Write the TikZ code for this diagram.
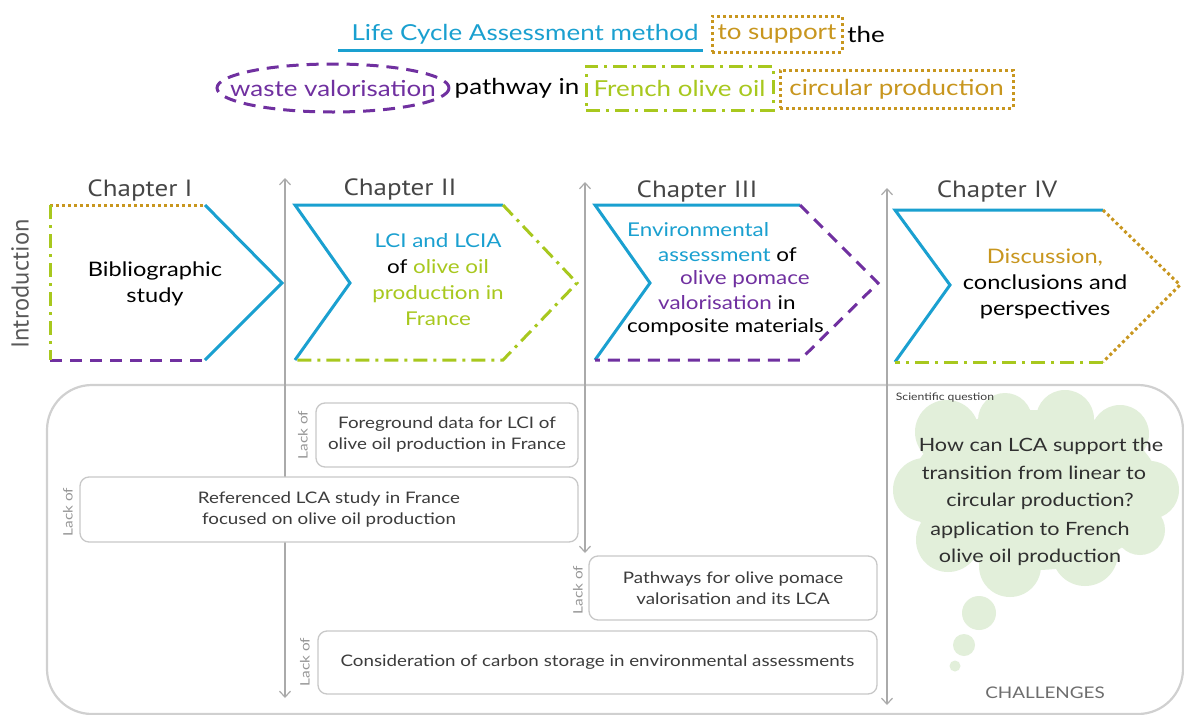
\documentclass[tikz,border=0pt]{standalone}
\usepackage{fontspec}
\setmainfont{Lato}[FakeStretch=1.18]
\newfontfamily\chapfont{PT Sans}[FakeStretch=1.15]
\newfontfamily\introfont{PT Sans}
\usetikzlibrary{arrows.meta,shapes.geometric}
\definecolor{cblue}{RGB}{26,160,208}
\definecolor{cgold}{RGB}{200,150,30}
\definecolor{cpurple}{RGB}{112,48,160}
\definecolor{cgreen}{RGB}{168,200,30}
\definecolor{cgray}{RGB}{200,200,200}
\definecolor{carrow}{RGB}{170,170,170}
\definecolor{ctext}{RGB}{60,60,60}
\definecolor{clack}{RGB}{150,150,150}
\definecolor{ccloud}{RGB}{226,239,218}
\begin{document}
\begin{tikzpicture}[x=1pt,y=-1pt,
  sblue/.style={draw=cblue,line width=3pt,line join=miter},
  sgold/.style={draw=cgold,line width=3pt,dash pattern=on 3pt off 3pt},
  spurple/.style={draw=cpurple,line width=3pt,dash pattern=on 12pt off 8pt},
  sgreen/.style={draw=cgreen,line width=3pt,dash pattern=on 14pt off 6pt on 3pt off 6pt},
  title/.style={font=\fontsize{22}{26}\selectfont,inner sep=0pt,anchor=center},
  chap/.style={font=\chapfont\fontsize{23.5}{26}\selectfont,text=ctext!95,inner sep=0pt},
  body/.style={font=\fontsize{20}{26}\selectfont,inner sep=0pt,align=center},
  bline/.style={font=\fontsize{19}{24}\selectfont,inner sep=0pt,anchor=west},
  gbox/.style={draw=cgray,line width=1.3pt,rounded corners=9pt,fill=white,text=ctext,
    font=\fontsize{15.9}{21}\selectfont,align=center,inner sep=0pt},
  lack/.style={rotate=90,text=clack,font=\fontsize{13}{14}\selectfont,inner sep=0pt},
  garrow/.style={draw=carrow,line width=1.2pt,{Straight Barb[length=6pt,width=11pt]}-{Straight Barb[length=6pt,width=11pt]}},
  qline/.style={font=\fontsize{18.3}{24}\selectfont,text=ctext!80!black,inner sep=0pt}
]
\useasboundingbox (0,0) rectangle (1184,715);
\fill[white] (0,0) rectangle (1184,715);

% ---------- title ----------
\node[title,text=cblue] (lca) at (525,34) {Life Cycle Assessment method};
\draw[cblue,line width=3pt] (338,50) -- (703,50);
\node[title,text=cgold,sgold,minimum width=130pt,minimum height=36pt] (sup) at (777,34) {to support};
\node[title] (the) at (866,34) {the};
\node[title,text=cpurple] (waste) at (333,88) {waste valorisation};
\draw[spurple] (waste.center) ellipse (116 and 24);
\node[title] (path) at (517,88) {pathway in};
\node[title,text=cgreen,sgreen,minimum width=187pt,minimum height=44pt] (french) at (679.5,88) {French olive oil};
\node[title,text=cgold,sgold,minimum width=233pt,minimum height=38pt] (circ) at (896.5,89) {circular production};

% ---------- introduction ----------
\node[rotate=90,font=\introfont\fontsize{24.5}{26}\selectfont,text=ctext!85,inner sep=0pt] (intro) at (20,284) {Introduction};

% ---------- chapter labels ----------
\node[chap] (c1) at (140,190) {Chapter I};
\node[chap] (c2) at (400,189) {Chapter II};
\node[chap] (c3) at (697,191) {Chapter III};
\node[chap] (c4) at (997,191) {Chapter IV};

% ---------- chevron I ----------
\draw[sgold] (50,205) -- (205,205);
\draw[sblue] (205,205) -- (282,283) -- (205,360);
\draw[spurple] (50,360) -- (205,360);
\draw[sgreen] (50,205) -- (50,360);
\node[body] (t1) at (155,284) {Bibliographic\\study};

% ---------- chevron II ----------
\draw[sblue] (295,360) -- (350,283) -- (295,205) -- (503,205);
\draw[sgreen] (503,205) -- (577,283) -- (503,360) -- (295,360);
\node[body,font=\fontsize{19}{26}\selectfont] (t2) at (438,280) {\textcolor{cblue}{LCI and LCIA}\\of \textcolor{cgreen}{olive oil}\\\textcolor{cgreen}{production in}\\\textcolor{cgreen}{France}};

% ---------- chevron III ----------
\draw[sblue] (595,360) -- (650,283) -- (595,205) -- (800,205);
\draw[spurple] (800,205) -- (878,283) -- (800,360) -- (595,360);
\node[bline,text=cblue] (t3a) at (627,230) {Environmental};
\node[bline] (t3b) at (658,255) {\textcolor{cblue}{assessment} of};
\node[bline,text=cpurple] (t3c) at (680,279) {olive pomace};
\node[bline] (t3d) at (658,303) {\textcolor{cpurple}{valorisation} in};
\node[bline] (t3e) at (627,327) {composite materials};

% ---------- chevron IV ----------
\draw[sblue] (895,362) -- (950,285) -- (895,210) -- (1103,210);
\draw[sgold] (1103,210) -- (1180,285) -- (1103,362);
\draw[sgreen] (1103,362) -- (895,362);
\node[body] (t4) at (1045,284) {\textcolor{cgold}{Discussion,}\\conclusions and\\perspectives};

% ---------- challenges frame ----------
\draw[draw=cgray!85,line width=2.2pt,rounded corners=45pt] (47,385) rectangle (1183,714);

% ---------- arrows ----------
\coordinate (a1t) at (285,178); \coordinate (a1b) at (285,698);
\coordinate (a2t) at (585,182); \coordinate (a2b) at (585,553);
\coordinate (a3t) at (887,188); \coordinate (a3b) at (887,705);
\draw[garrow] (a1t) -- (a1b);
\draw[garrow] (a2t) -- (a2b);
\draw[garrow] (a3t) -- (a3b);

% ---------- lack boxes ----------
\node[gbox,minimum width=262pt,minimum height=64pt] (fg) at (447,435) {Foreground data for LCI of\\olive oil production in France};
\node[lack] (l1) at (303,435) {Lack of};
\node[gbox,minimum width=498pt,minimum height=65pt] (ref) at (329,509.5) {Referenced LCA study in France\\focused on olive oil production};
\node[lack] (l2) at (68,512) {Lack of};
\node[gbox,minimum width=288pt,minimum height=64pt] (pw) at (733,588) {Pathways for olive pomace\\valorisation and its LCA};
\node[lack] (l3) at (578,590) {Lack of};
\node[gbox,minimum width=559pt,minimum height=63pt] (cs) at (597.5,662.5) {Consideration of carbon storage in environmental assessments};
\node[lack] (l4) at (305,662) {Lack of};

% ---------- cloud ----------
\begin{scope}[fill=ccloud]
\fill (947,432) circle (32);
\fill (1005,420) circle (27);
\fill (1065,419) circle (29);
\fill (1120,434) circle (29);
\fill (1150,490) circle (29);
\fill (925,490) circle (32);
\fill (948,540) circle (32);
\fill (1010,566) circle (31);
\fill (1085,553) circle (33);
\fill (1140,530) circle (25);
\fill (1035,490) ellipse (125 and 80);
\fill (979,613) circle (17);
\fill (964,645) circle (11);
\fill (955,666) circle (5.5);
\end{scope}
\node[font=\fontsize{10.3}{12}\selectfont,text=ctext,inner sep=0pt] (sq) at (945,398) {Scientific question};
\node[qline] (q1) at (1041,446) {How can LCA support the};
\node[qline] (q2) at (1034,473) {transition from linear to};
\node[qline] (q3) at (1040,501) {circular production?};
\node[qline] (q4) at (1030,530) {application to French};
\node[qline] (q5) at (1030,557) {olive oil production};
\node[font=\fontsize{16}{18}\selectfont,text=ctext!75,inner sep=0pt] (ch) at (1045,693) {CHALLENGES};
\end{tikzpicture}
\end{document}
